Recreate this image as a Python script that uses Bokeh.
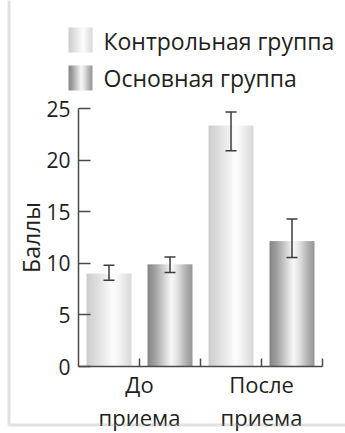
import numpy as np
from bokeh.plotting import figure
from bokeh.models import (ColumnDataSource, Range1d, LinearAxis, FixedTicker,
                          Whisker, TeeHead, BoxAnnotation)
from bokeh.core.properties import value
from bokeh.embed import file_html
from bokeh.resources import INLINE

# ---- data -------------------------------------------------------------
groups = ["До\nприема", "После\nприема"]
series = ["Контрольная группа", "Основная группа"]

control = [9.0, 23.35]
control_upper = [9.8, 24.65]
control_lower = [8.35, 20.9]

main = [9.9, 12.15]
main_upper = [10.6, 14.3]
main_lower = [9.1, 10.55]

y_ticks = [0, 5, 10, 15, 20, 25]

# ---- geometry ---------------------------------------------------------
W, H = 345, 433
X0_PX, UNIT_X = 78.0, 61.0      # screen x of the y axis, px per category slot
Y0_PX, UNIT_Y = 366.0, 10.32    # screen y of the baseline, px per score point
BAR_W = 45.0 / UNIT_X
FONT = value("Open Sans")
TXT = "#231f20"
AX = "#4a4a4a"


def xd(px):
    return (px - X0_PX) / UNIT_X


def yd(py):
    return (Y0_PX - py) / UNIT_Y


def shade(stops, n=120):
    """Horizontal grey gradient packed as a 1-row RGBA image."""
    t = np.linspace(0.0, 1.0, n)
    g = np.interp(t, [s[0] for s in stops], [s[1] for s in stops])
    g = np.clip(np.round(g), 0, 255).astype(np.uint32)
    return ((np.uint32(255) << 24) | (g << 16) | (g << 8) | g).reshape(1, n)


LIGHT = shade([(0, 205), (0.12, 214), (0.4, 236), (0.6, 253),
               (0.75, 242), (0.92, 224), (1, 216)])
DARK = shade([(0, 134), (0.15, 158), (0.35, 205), (0.53, 248),
              (0.68, 222), (0.85, 178), (1, 150)])

p = figure(width=W, height=H,
           x_range=Range1d(xd(0), xd(W)), y_range=Range1d(yd(H), yd(0)),
           x_axis_type=None, y_axis_type=None,
           toolbar_location=None, output_backend="svg",
           min_border=0, outline_line_color=None)
p.background_fill_color = "white"
p.border_fill_color = "white"

# ---- bars -------------------------------------------------------------
centers, heights, imgs, ups, los = [], [], [], [], []
for g in range(len(groups)):
    for s, (vals, hi, lo, img) in enumerate([(control, control_upper, control_lower, LIGHT),
                                             (main, main_upper, main_lower, DARK)]):
        centers.append(2 * g + s + 0.5)
        heights.append(vals[g])
        imgs.append(img)
        ups.append(hi[g])
        los.append(lo[g])

bars = ColumnDataSource(dict(
    image=imgs,
    x=[c - BAR_W / 2 for c in centers],
    y=[0.0] * len(centers),
    dw=[BAR_W] * len(centers),
    dh=heights,
    base=centers, upper=ups, lower=los,
))
p.image_rgba(image="image", x="x", y="y", dw="dw", dh="dh", source=bars)

err_col = "#3c3c3c"
p.add_layout(Whisker(source=bars, base="base", upper="upper", lower="lower",
                     level="overlay",
                     line_color=err_col, line_width=1.5,
                     upper_head=TeeHead(size=11, line_color=err_col, line_width=1.5),
                     lower_head=TeeHead(size=11, line_color=err_col, line_width=1.5)))

# ---- axes -------------------------------------------------------------
yaxis = LinearAxis(fixed_location=0, bounds=(0, 25),
                   ticker=FixedTicker(ticks=y_ticks),
                   axis_label="Баллы")
yaxis.major_tick_in = 12
yaxis.major_tick_out = 0
yaxis.minor_tick_line_color = None
yaxis.major_label_standoff = 8
yaxis.axis_label_standoff = -4
p.add_layout(yaxis, "left")

xaxis = LinearAxis(fixed_location=0, bounds=(0, 4),
                   ticker=FixedTicker(ticks=[1, 2, 3, 4]))
xaxis.major_label_overrides = {1: groups[0], 2: " ", 3: groups[1], 4: " "}
xaxis.major_tick_in = 8
xaxis.major_tick_out = 0
xaxis.minor_tick_line_color = None
xaxis.major_label_standoff = 2
p.add_layout(xaxis, "below")

for ax in (xaxis, yaxis):
    ax.axis_line_color = AX
    ax.axis_line_width = 1.5
    ax.major_tick_line_color = AX
    ax.major_tick_line_width = 1.5
    ax.major_label_text_font = "Open Sans"
    ax.major_label_text_color = TXT
    ax.axis_label_text_font = "Open Sans"
    ax.axis_label_text_font_size = "23px"
    ax.axis_label_text_font_style = "normal"
    ax.axis_label_text_color = TXT
yaxis.major_label_text_font_size = "21px"
xaxis.major_label_text_font_size = "22px"
xaxis.major_label_text_line_height = 1.1

# ---- legend -----------------------------------------------------------
sw_w, sw_h = 24 / UNIT_X, 25 / UNIT_Y
leg = ColumnDataSource(dict(
    image=[LIGHT, DARK],
    x=[xd(68), xd(68)],
    y=[yd(52), yd(90)],
    dw=[sw_w, sw_w], dh=[sw_h, sw_h],
    tx=[xd(103), xd(103)],
    ty=[yd(40), yd(77)],
    label=series,
))
p.image_rgba(image="image", x="x", y="y", dw="dw", dh="dh", source=leg)
p.text(x="tx", y="ty", text="label", source=leg, text_font=FONT,
       text_font_size="23px", text_baseline="middle", text_color=TXT)

# ---- frame line --------------------------------------------------------
p.add_layout(BoxAnnotation(left=8.5, right=W + 20, top=8.5, bottom=H + 20,
                           left_units="screen", right_units="screen",
                           top_units="screen", bottom_units="screen",
                           fill_color=None, line_color="#9d9d9d", line_width=3))

open("out.html", "w").write(file_html(p, INLINE))
